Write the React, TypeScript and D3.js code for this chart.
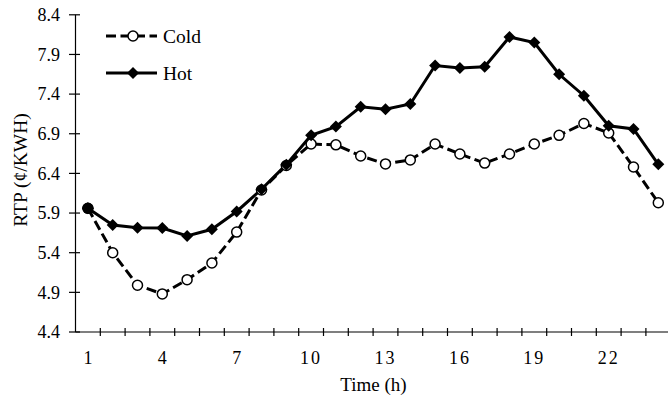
import React from "react";
import * as d3 from "d3";

// Hourly real-time price (¢/kWh) for cold and hot days
const hours: number[] = d3.range(1, 25);
const coldValues: number[] = [
  5.96, 5.4, 4.99, 4.88, 5.06, 5.27, 5.66, 6.19, 6.5, 6.77, 6.76, 6.62,
  6.52, 6.57, 6.77, 6.645, 6.53, 6.645, 6.77, 6.88, 7.03, 6.91, 6.48, 6.03,
];
const hotValues: number[] = [
  5.96, 5.75, 5.715, 5.71, 5.61, 5.695, 5.92, 6.2, 6.51, 6.88, 6.99, 7.24,
  7.21, 7.275, 7.76, 7.73, 7.745, 8.12, 8.05, 7.65, 7.38, 7.0, 6.96, 6.515,
];
const yTicks: number[] = [4.4, 4.9, 5.4, 5.9, 6.4, 6.9, 7.4, 7.9, 8.4];
const xTickLabels: number[] = [1, 4, 7, 10, 13, 16, 19, 22];

const W = 668;
const H = 396;
const FONT = "'Liberation Serif', 'Times New Roman', serif";

export default function App() {
  const x = d3
    .scaleBand<number>()
    .domain(hours)
    .range([75.5, 75.5 + 24 * 24.8])
    .padding(0);
  const y = d3.scaleLinear().domain([4.4, 8.4]).range([332, 14.8]);
  const cx = (h: number) => (x(h) as number) + x.bandwidth() / 2;

  const line = d3
    .line<number>()
    .x((_, i) => cx(hours[i]))
    .y((v) => y(v));

  const diamond = (px: number, py: number, r = 6) =>
    `M${px},${py - r}L${px + r},${py}L${px},${py + r}L${px - r},${py}Z`;

  const boundaries = d3.range(0, 25).map((i) => 75.5 + i * 24.8);

  return (
    <svg
      width={W}
      height={H}
      style={{ position: "absolute", left: 0, top: 0, background: "#fff" }}
      fontFamily={FONT}
    >
      {/* y axis */}
      <line x1={75.5} x2={75.5} y1={y(8.4)} y2={y(4.4)} stroke="#000" strokeWidth={1.2} />
      {yTicks.map((t) => (
        <g key={t}>
          <line x1={69} x2={80} y1={y(t)} y2={y(t)} stroke="#000" strokeWidth={1.2} />
          <text x={60} y={y(t)} dy="0.35em" textAnchor="end" fontSize={18}>
            {t.toFixed(1)}
          </text>
        </g>
      ))}
      {/* x axis */}
      <line x1={75.5} x2={W} y1={y(4.4)} y2={y(4.4)} stroke="#000" strokeWidth={1.2} />
      {boundaries.slice(1).map((b, i) => (
        <line key={i} x1={b} x2={b} y1={y(4.4) - 4} y2={y(4.4) + 4} stroke="#000" strokeWidth={1.2} />
      ))}
      {xTickLabels.map((h) => (
        <text
          key={h}
          x={cx(h)}
          y={358}
          dy="0.35em"
          textAnchor="middle"
          fontSize={18}
          letterSpacing={h >= 10 ? 2 : 0}
        >
          {h}
        </text>
      ))}

      {/* axis titles */}
      <text x={373.5} y={384} dy="0.35em" textAnchor="middle" fontSize={19}>
        Time (h)
      </text>
      <text
        transform={`translate(20,${170}) rotate(-90)`}
        textAnchor="middle"
        dy="0.35em"
        fontSize={19.5}
      >
        RTP (¢/KWH)
      </text>

      {/* series */}
      <path
        d={line(coldValues) ?? ""}
        fill="none"
        stroke="#000"
        strokeWidth={3}
        strokeDasharray="10,4.5"
      />
      <path d={line(hotValues) ?? ""} fill="none" stroke="#000" strokeWidth={3} />
      {coldValues.map((v, i) => (
        <circle key={`c${i}`} cx={cx(hours[i])} cy={y(v)} r={5} fill="#fff" stroke="#000" strokeWidth={1.5} />
      ))}
      {hotValues.map((v, i) => (
        <path key={`h${i}`} d={diamond(cx(hours[i]), y(v))} fill="#000" />
      ))}
      <circle cx={cx(1)} cy={y(hotValues[0])} r={5.5} fill="#000" />

      {/* legend */}
      <g>
        <line x1={106} x2={157} y1={36} y2={36} stroke="#000" strokeWidth={3} strokeDasharray="10,4.5" />
        <circle cx={133} cy={36} r={5} fill="#fff" stroke="#000" strokeWidth={1.5} />
        <text x={163} y={36} dy="0.35em" fontSize={19.5}>Cold</text>
        <line x1={106} x2={157} y1={73} y2={73} stroke="#000" strokeWidth={3} />
        <path d={diamond(133, 73)} fill="#000" />
        <text x={163} y={73} dy="0.35em" fontSize={19.5}>Hot</text>
      </g>
    </svg>
  );
}
